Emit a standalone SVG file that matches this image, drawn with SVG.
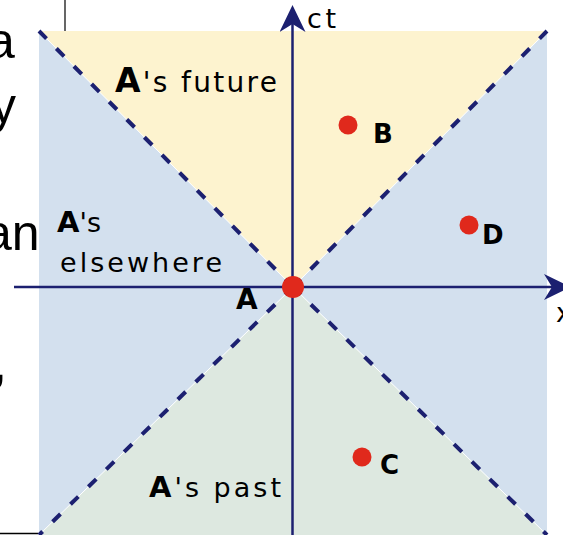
<svg xmlns="http://www.w3.org/2000/svg" width="563" height="535" viewBox="0 0 563 535">
<style>
.lbl{font-family:"DejaVu Sans","Liberation Sans",sans-serif;fill:#000}
.b{font-weight:bold}
.frag{font-family:"Liberation Sans",Arial,sans-serif;font-size:50px;fill:#000}
.cone{stroke:#1c2070;stroke-width:4;stroke-dasharray:11 14;fill:none}
.axis{stroke:#1c2070;stroke-width:2.5;fill:none}
.ev{fill:#e0291c}
</style>
<defs>
<marker id="ah" viewBox="0 0 27 26" refX="22" refY="13" markerWidth="27" markerHeight="26" markerUnits="userSpaceOnUse" orient="auto">
<path d="M0,0 L27,13 L0,26 L8,13 Z" fill="#1c2070"/>
</marker>
</defs>
<g id="page-fragments">
<line x1="65" y1="0" x2="65" y2="31" stroke="#000" stroke-width="1.2"/>
<line x1="0" y1="533.5" x2="38" y2="533.5" stroke="#000" stroke-width="1.5"/>
<text class="frag" x="-13" y="58">a</text>
<text class="frag" x="-9" y="123">y</text>
<text class="frag" x="-16" y="250">an</text>
<text class="frag" x="-7" y="380">,</text>
</g>
<g id="regions">
<rect id="elsewhere-region" x="39" y="31" width="508" height="504" fill="#d3e0ee"/>
<polygon id="future-region" points="39,31 547,31 293,287" fill="#fdf3cf"/>
<polygon id="past-region" points="39,535 547,535 293,287" fill="#dde8e0"/>
<g stroke="#fff" stroke-width="1">
<line x1="39" y1="31" x2="293" y2="287"/>
<line x1="547" y1="31" x2="293" y2="287"/>
<line x1="39" y1="535" x2="293" y2="287"/>
<line x1="547" y1="535" x2="293" y2="287"/>
</g>
</g>
<g id="connectors">
<line class="cone" x1="293" y1="287" x2="39" y2="31"/>
<line class="cone" x1="293" y1="287" x2="547" y2="31"/>
<line class="cone" x1="293" y1="287" x2="39" y2="535"/>
<line class="cone" x1="293" y1="287" x2="547" y2="535"/>
<line id="x-axis" class="axis" x1="14" y1="287" x2="566" y2="287" marker-end="url(#ah)"/>
<line id="ct-axis" class="axis" x1="292.5" y1="535" x2="292.5" y2="10" marker-end="url(#ah)"/>
</g>
<g id="axis-labels">
<text class="lbl" x="307" y="28" font-size="27" textLength="29" lengthAdjust="spacing">ct</text>
<text class="lbl" x="556" y="322" font-size="26">x</text>
</g>
<g id="region-labels">
<text class="lbl" x="115" y="92" font-size="28" textLength="162" lengthAdjust="spacing"><tspan class="b" font-size="33">A</tspan>'s future</text>
<text class="lbl" x="57" y="232" font-size="27" textLength="44" lengthAdjust="spacing"><tspan class="b" font-size="29">A</tspan>'s</text>
<text class="lbl" x="60" y="272" font-size="27" textLength="162" lengthAdjust="spacing">elsewhere</text>
<text class="lbl" x="149" y="497" font-size="27" textLength="132" lengthAdjust="spacing"><tspan class="b" font-size="29">A</tspan>'s past</text>
</g>
<g id="event-A">
<circle class="ev" cx="293" cy="287" r="11"/>
<text class="lbl b" x="236" y="309" font-size="28">A</text>
</g>
<g id="event-B">
<circle class="ev" cx="348" cy="125" r="9.5"/>
<text class="lbl b" x="373" y="143" font-size="26">B</text>
</g>
<g id="event-D">
<circle class="ev" cx="469" cy="225" r="9.5"/>
<text class="lbl b" x="482" y="244" font-size="26">D</text>
</g>
<g id="event-C">
<circle class="ev" cx="362" cy="457" r="9.5"/>
<text class="lbl b" x="380" y="474" font-size="26">C</text>
</g>
</svg>
